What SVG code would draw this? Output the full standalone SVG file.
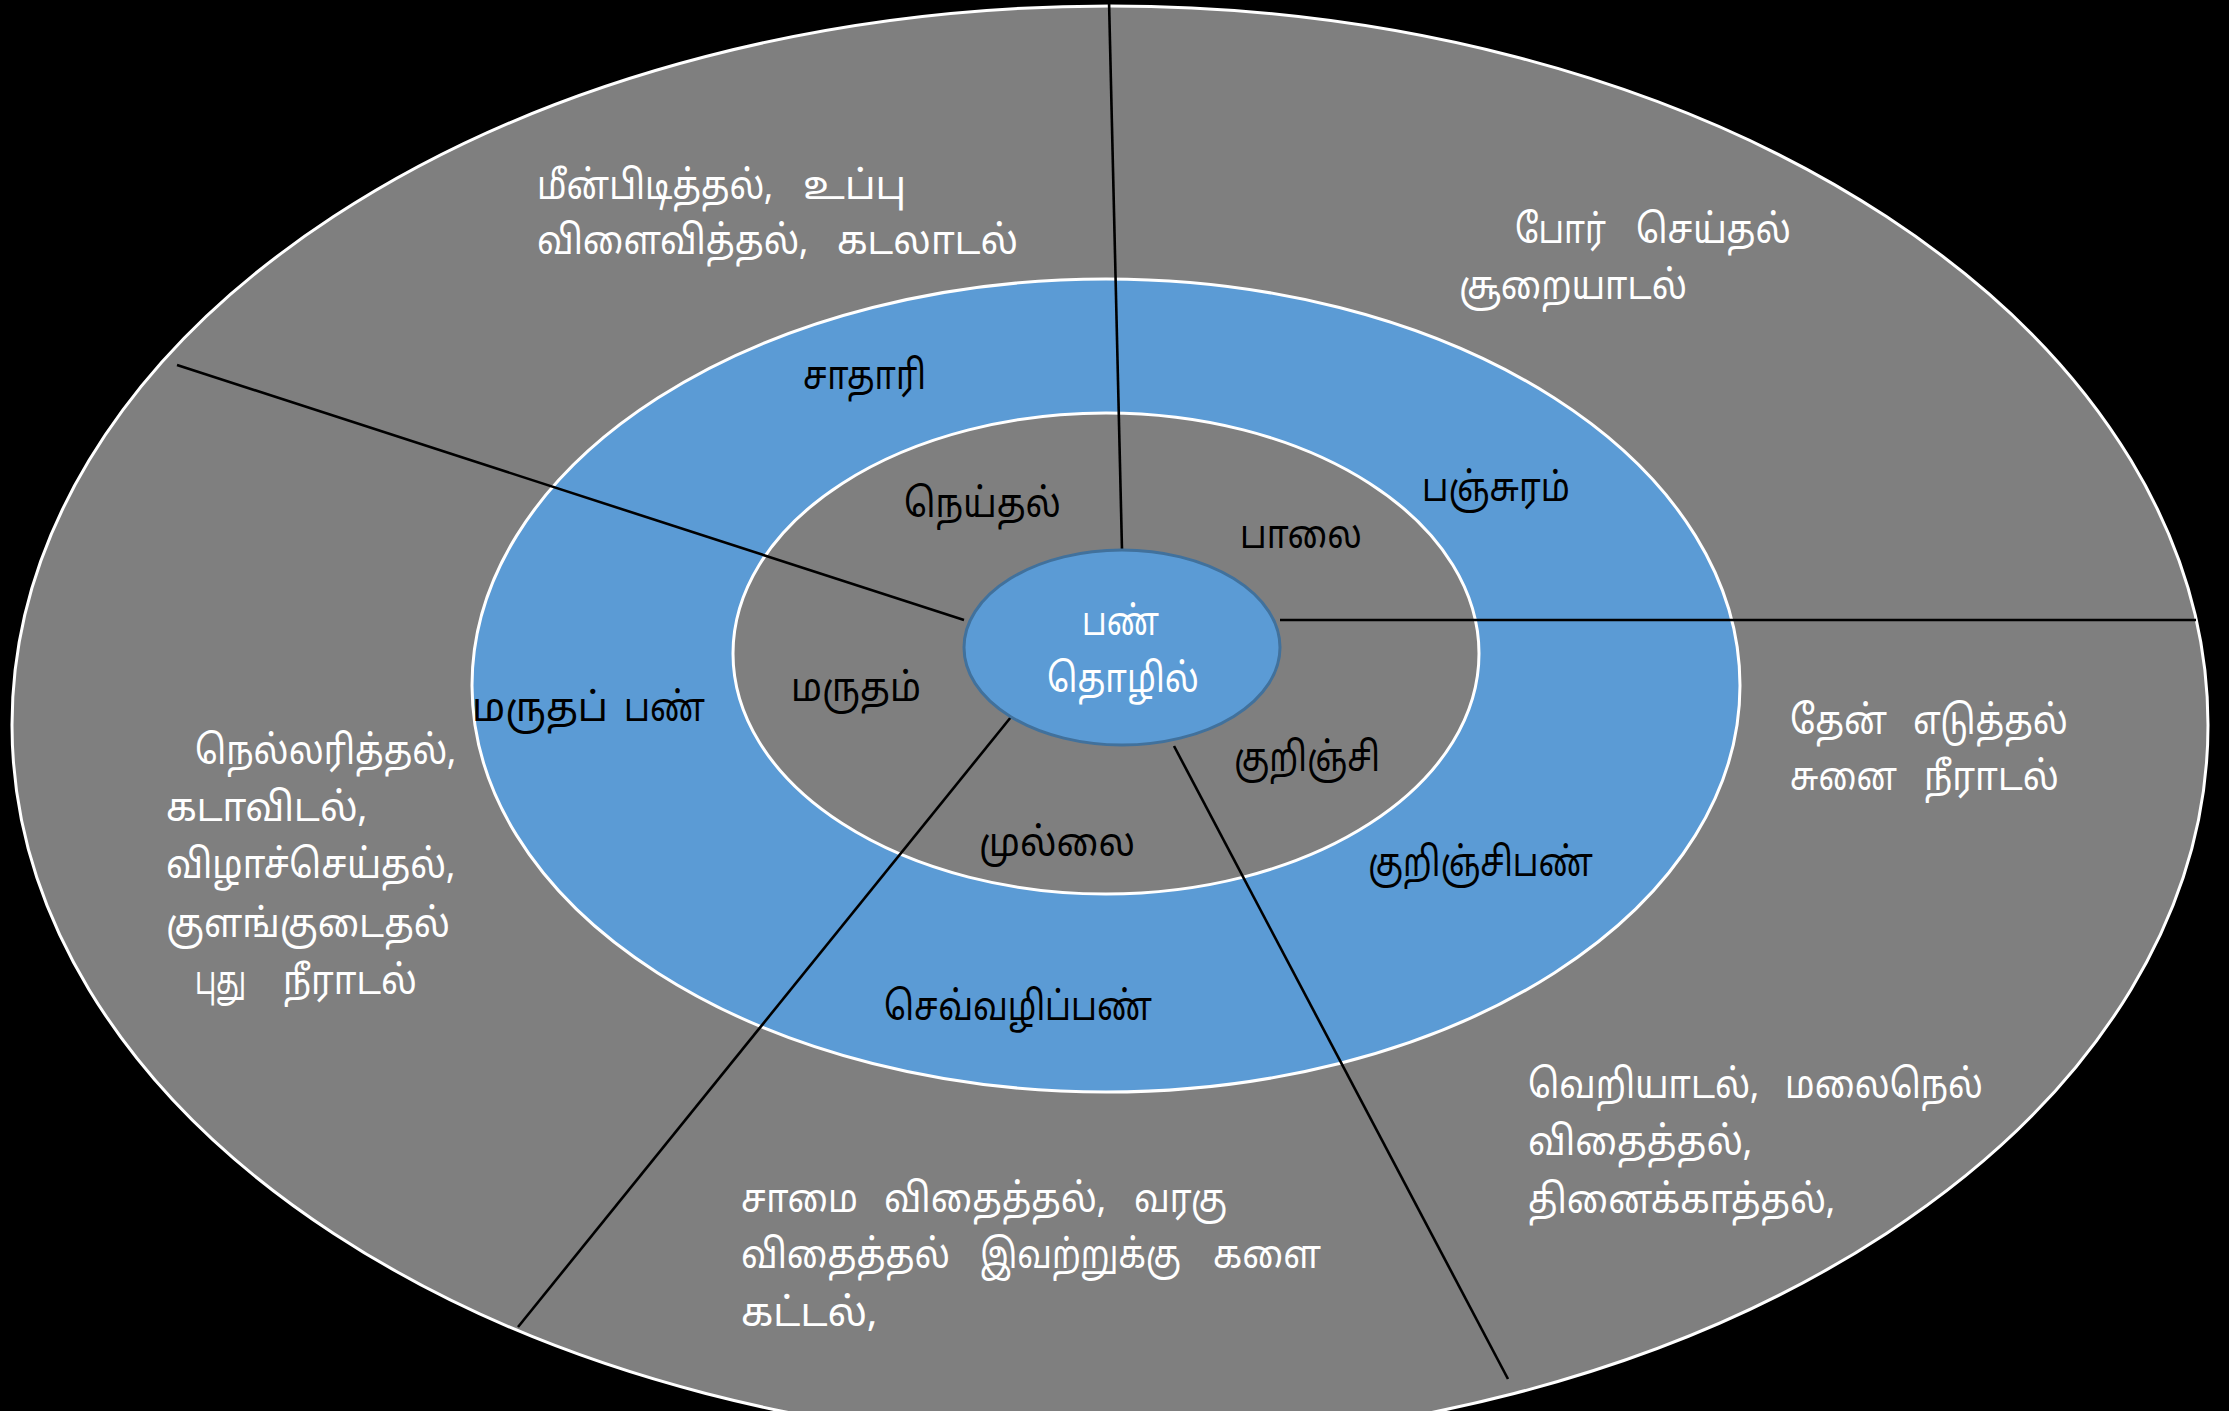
<svg xmlns="http://www.w3.org/2000/svg" width="2229" height="1411" viewBox="0 0 2229 1411">
<style>
.ring{stroke:#FFFFFF;stroke-width:3}
.gray{fill:#7F7F7F}
.blue{fill:#5B9BD5}
.conn{stroke:#000000;stroke-width:2.6;fill:none}
text{font-family:"Noto Sans Tamil","Noto Serif Tamil","Lohit Tamil","Latha","Noto Sans",sans-serif;font-size:40px}
.w{fill:#FFFFFF}
.b{fill:#000000}
</style>
<rect x="0" y="0" width="2229" height="1411" fill="#000000"/>
<g id="outer-ring">
<ellipse class="ring gray" cx="1110" cy="725" rx="1098" ry="719"/>
</g>
<g id="pan-ring">
<ellipse class="ring blue" cx="1106" cy="685.5" rx="634" ry="406.5"/>
</g>
<g id="thinai-ring">
<ellipse class="ring gray" cx="1106" cy="653.5" rx="373" ry="240.5"/>
</g>
<g id="connectors">
<line class="conn" x1="1109" y1="0" x2="1122" y2="550"/>
<line class="conn" x1="177" y1="365" x2="964" y2="620"/>
<line class="conn" x1="1280" y1="620" x2="2196" y2="620"/>
<line class="conn" x1="1011" y1="717" x2="518" y2="1327"/>
<line class="conn" x1="1174" y1="746" x2="1508" y2="1379"/>
</g>
<g id="center">
<ellipse cx="1122" cy="647.5" rx="158" ry="97.5" fill="#5B9BD5" stroke="#41719C" stroke-width="3"/>
<text class="w" x="1082" y="635" textLength="77" lengthAdjust="spacingAndGlyphs">பண்</text>
<text class="w" x="1047" y="692" textLength="152" lengthAdjust="spacingAndGlyphs">தொழில்</text>
</g>
<g id="neithal">
<text class="b" x="904" y="517" textLength="157" lengthAdjust="spacingAndGlyphs">நெய்தல்</text>
<text class="b" x="803" y="389" textLength="123" lengthAdjust="spacingAndGlyphs">சாதாரி</text>
<text class="w" y="199"><tspan x="537" textLength="236" lengthAdjust="spacingAndGlyphs">மீன்பிடித்தல்,</tspan><tspan x="803" textLength="103" lengthAdjust="spacingAndGlyphs">உப்பு</tspan></text>
<text class="w" y="254"><tspan x="537" textLength="271" lengthAdjust="spacingAndGlyphs">விளைவித்தல்,</tspan><tspan x="837" textLength="181" lengthAdjust="spacingAndGlyphs">கடலாடல்</tspan></text>
</g>
<g id="palai">
<text class="b" x="1240" y="548" textLength="122" lengthAdjust="spacingAndGlyphs">பாலை</text>
<text class="b" x="1422" y="501" textLength="148" lengthAdjust="spacingAndGlyphs">பஞ்சுரம்</text>
<text class="w" y="243"><tspan x="1515" textLength="91" lengthAdjust="spacingAndGlyphs">போர்</tspan><tspan x="1636" textLength="155" lengthAdjust="spacingAndGlyphs">செய்தல்</tspan></text>
<text class="w" x="1459" y="299" textLength="228" lengthAdjust="spacingAndGlyphs">சூறையாடல்</text>
</g>
<g id="kurinji">
<text class="b" x="1234" y="771" textLength="146" lengthAdjust="spacingAndGlyphs">குறிஞ்சி</text>
<text class="b" x="1368" y="876" textLength="225" lengthAdjust="spacingAndGlyphs">குறிஞ்சிபண்</text>
<text class="w" y="734"><tspan x="1790" textLength="97" lengthAdjust="spacingAndGlyphs">தேன்</tspan><tspan x="1913" textLength="155" lengthAdjust="spacingAndGlyphs">எடுத்தல்</tspan></text>
<text class="w" y="790"><tspan x="1790" textLength="107" lengthAdjust="spacingAndGlyphs">சுனை</tspan><tspan x="1924" textLength="135" lengthAdjust="spacingAndGlyphs">நீராடல்</tspan></text>
<text class="w" y="1098"><tspan x="1528" textLength="231" lengthAdjust="spacingAndGlyphs">வெறியாடல்,</tspan><tspan x="1785" textLength="198" lengthAdjust="spacingAndGlyphs">மலைநெல்</tspan></text>
<text class="w" x="1528" y="1155" textLength="224" lengthAdjust="spacingAndGlyphs">விதைத்தல்,</text>
<text class="w" x="1528" y="1213" textLength="307" lengthAdjust="spacingAndGlyphs">தினைக்காத்தல்,</text>
</g>
<g id="mullai">
<text class="b" x="979" y="856" textLength="156" lengthAdjust="spacingAndGlyphs">முல்லை</text>
<text class="b" x="884" y="1020" textLength="268" lengthAdjust="spacingAndGlyphs">செவ்வழிப்பண்</text>
<text class="w" y="1212"><tspan x="741" textLength="117" lengthAdjust="spacingAndGlyphs">சாமை</tspan><tspan x="884" textLength="222" lengthAdjust="spacingAndGlyphs">விதைத்தல்,</tspan><tspan x="1134" textLength="93" lengthAdjust="spacingAndGlyphs">வரகு</tspan></text>
<text class="w" y="1268"><tspan x="741" textLength="209" lengthAdjust="spacingAndGlyphs">விதைத்தல்</tspan><tspan x="980" textLength="201" lengthAdjust="spacingAndGlyphs">இவற்றுக்கு</tspan><tspan x="1213" textLength="108" lengthAdjust="spacingAndGlyphs">களை</tspan></text>
<text class="w" x="741" y="1326" textLength="136" lengthAdjust="spacingAndGlyphs">கட்டல்,</text>
</g>
<g id="marutham">
<text class="b" x="791" y="701" textLength="130" lengthAdjust="spacingAndGlyphs">மருதம்</text>
<text class="b" y="721"><tspan x="472" textLength="136" lengthAdjust="spacingAndGlyphs">மருதப்</tspan><tspan x="624" textLength="81" lengthAdjust="spacingAndGlyphs">பண்</tspan></text>
<text class="w" x="195" y="764" textLength="261" lengthAdjust="spacingAndGlyphs">நெல்லரித்தல்,</text>
<text class="w" x="166" y="821" textLength="201" lengthAdjust="spacingAndGlyphs">கடாவிடல்,</text>
<text class="w" x="166" y="878" textLength="289" lengthAdjust="spacingAndGlyphs">விழாச்செய்தல்,</text>
<text class="w" x="166" y="937" textLength="284" lengthAdjust="spacingAndGlyphs">குளங்குடைதல்</text>
<text class="w" y="994"><tspan x="195" textLength="51" lengthAdjust="spacingAndGlyphs">புது</tspan><tspan x="283" textLength="134" lengthAdjust="spacingAndGlyphs">நீராடல்</tspan></text>
</g>
</svg>
